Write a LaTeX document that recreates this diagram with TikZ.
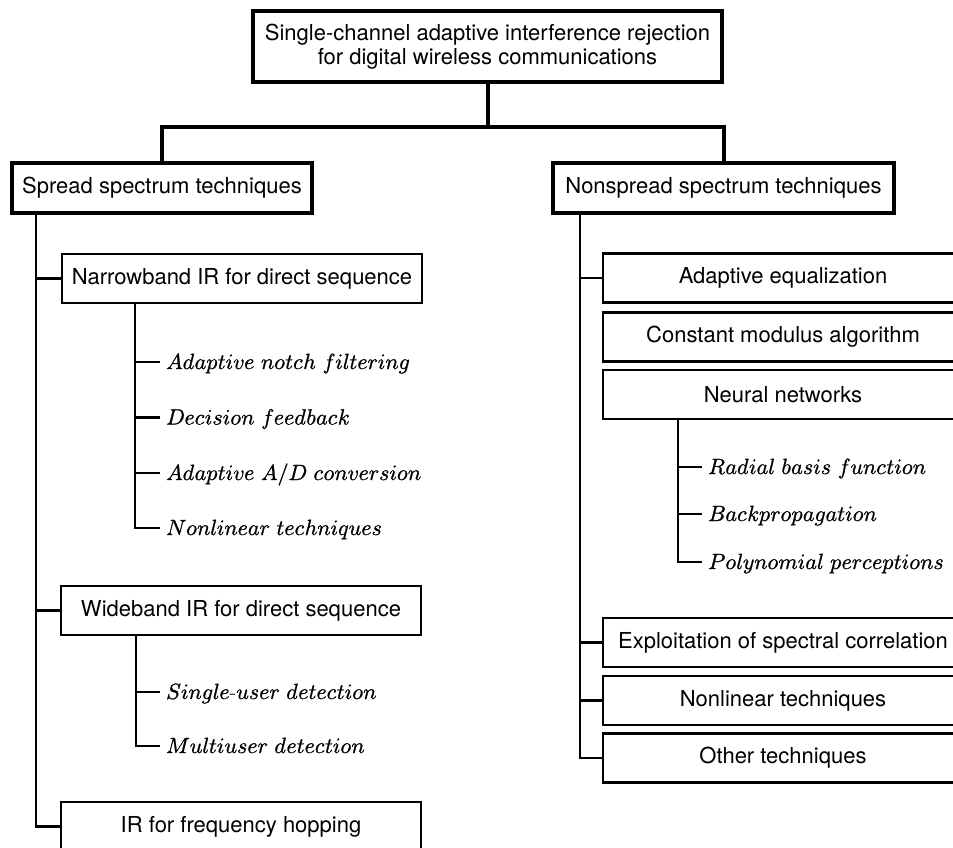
\documentclass[tikz,border=0pt]{standalone}
\usepackage{fontspec}
\usepackage{unicode-math}
\setmathfont{latinmodern-math.otf}[FakeBold=1]
\newfontfamily\heros{TeX Gyre Heros}
\begin{document}
\begin{tikzpicture}[x=1pt,y=-1pt,
  sans/.style={font=\heros\fontsize{22}{24}\selectfont},
  bigbox/.style={draw, line width=4pt, sans, inner sep=0pt, align=center},
  subbox/.style={draw, line width=2.6pt, sans, inner sep=0pt, minimum height=49pt, minimum width=360pt},
  item/.style={font=\fontsize{22}{24}\selectfont, anchor=base west, inner xsep=6pt, inner ysep=0pt, text height=16pt, text depth=2pt},
  thickline/.style={line width=4pt},
  thinline/.style={line width=2.8pt}]
\useasboundingbox (0,0) rectangle (953,848);
\clip (0,0) rectangle (953,848);
% top level
\node[bigbox, minimum width=469pt, minimum height=71pt] (top) at (487.5,46.5) {Single-channel adaptive interference rejection\\for digital wireless communications};
\node[bigbox, minimum width=300pt, minimum height=50pt] (ss) at (162,188) {Spread spectrum techniques};
\node[bigbox, minimum width=341pt, minimum height=50pt] (ns) at (723.5,188) {Nonspread spectrum techniques};
\coordinate (bar) at (487.5,127);
\draw[thickline] (top.south) -- (bar);
\draw[thickline] (ss.north) |- (bar) -| (ns.north);
% left branch
\coordinate (lt) at (36,213);
\node[subbox] (nb) at (242,278.5) {Narrowband IR for direct sequence};
\node[subbox] (wb) at (241,610.5) {Wideband IR for direct sequence};
\node[subbox] (fh) at (241,826.5) {IR for frequency hopping};
\draw[thinline] (lt) |- (fh.west);
\draw[thinline] (lt |- nb.west) -- (nb.west);
\draw[thinline] (lt |- wb.west) -- (wb.west);
% narrowband items
\coordinate (nbt) at (135,303);
\node[item] (a1) at (160,369) {$Adaptive\ notch\ filtering$};
\node[item] (a2) at (160,424.5) {$Decision\ feedback$};
\node[item] (a3) at (160,480) {$Adaptive\ A/D\ conversion$};
\node[item] (a4) at (160,535) {$Nonlinear\ techniques$};
\draw[thinline] (nbt) |- (a4.west);
\draw[thinline] (nbt |- a1.west) -- (a1.west);
\draw[thinline] (nbt |- a2.west) -- (a2.west);
\draw[thinline] (nbt |- a3.west) -- (a3.west);
% wideband items
\coordinate (wbt) at (136,635);
\node[item] (b1) at (160,699) {$Single\mbox{-}user\ detection$};
\node[item] (b2) at (160,753) {$Multiuser\ detection$};
\draw[thinline] (wbt) |- (b2.west);
\draw[thinline] (wbt |- b1.west) -- (b1.west);
% right branch
\coordinate (rt) at (580,213);
\node[subbox] (ae) at (783,278) {Adaptive equalization};
\node[subbox] (cma) at (783,337) {Constant modulus algorithm};
\node[subbox] (nn) at (783,394.5) {Neural networks};
\node[subbox] (esc) at (783,642.5) {Exploitation of spectral correlation};
\node[subbox] (nt) at (783,700.5) {Nonlinear techniques};
\node[subbox] (ot) at (783,758) {Other techniques};
\draw[thinline] (rt) |- (ot.west);
\draw[thinline] (rt |- ae.west) -- (ae.west);
\draw[thinline] (rt |- esc.west) -- (esc.west);
\draw[thinline] (rt |- nt.west) -- (nt.west);
% neural network items
\coordinate (nnt) at (678,419);
\node[item] (c1) at (702,474) {$Radial\ basis\ function$};
\node[item] (c2) at (702,521) {$Backpropagation$};
\node[item] (c3) at (702,569) {$Polynomial\ perceptions$};
\draw[thinline] (nnt) |- (c3.west);
\draw[thinline] (nnt |- c1.west) -- (c1.west);
\draw[thinline] (nnt |- c2.west) -- (c2.west);
\end{tikzpicture}
\end{document}
